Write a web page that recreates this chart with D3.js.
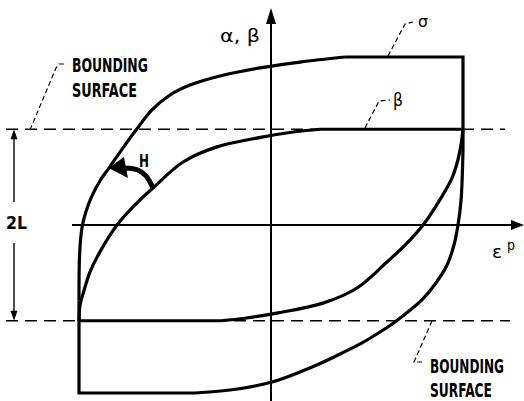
<!DOCTYPE html>
<html>
<head>
<meta charset="utf-8">
<script src="https://cdn.jsdelivr.net/npm/d3@7"></script>
<style>
  body { margin: 0; background: #fff; }
  text { font-family: "DejaVu Sans", sans-serif; fill: #000; }
</style>
</head>
<body>
<div id="chart"></div>
<script>
// loop data, x = plastic strain, y = stress / back stress (normalised)
const L = 0.57

// sigma loop, rising branch (left / top)
const sigmaUp = [
  [-1, -0.45], [-0.998, -0.208], [-0.992, -0.089], [-0.982, 0], [-0.961, 0.089],
  [-0.93, 0.179], [-0.888, 0.268], [-0.844, 0.339], [-0.779, 0.446], [-0.703, 0.565],
  [-0.62, 0.685], [-0.526, 0.774], [-0.422, 0.833], [-0.266, 0.887], [-0.057, 0.935],
  [0.151, 0.97], [0.385, 1]
]
// sigma loop, falling branch (right / bottom)
const sigmaDown = [
  [1, 0.446], [0.99, 0.149], [0.974, 0], [0.953, -0.119], [0.917, -0.238],
  [0.859, -0.345], [0.786, -0.446], [0.719, -0.512], [0.646, -0.577], [0.568, -0.637],
  [0.474, -0.702], [0.349, -0.774], [0.214, -0.845], [0.005, -0.935], [-0.214, -0.982],
  [-0.396, -1]
]
// straight parts of the sigma loop (yield plateaus)
const sigmaCorners = [
  [[0.385, 1], [1, 1], [1, 0.446]],
  [[-0.396, -1], [-1, -1], [-1, -0.45]]
]

// beta loop, rising branch
const betaUp = [
  [-1, -L], [-0.995, -0.48], [-0.974, -0.39], [-0.943, -0.28], [-0.891, -0.16],
  [-0.802, 0], [-0.708, 0.12], [-0.615, 0.22], [-0.458, 0.375], [-0.281, 0.465],
  [-0.047, 0.523], [0.125, 0.555], [0.255, L]
]
// beta loop, falling branch
const betaDown = [
  [1, L], [0.99, 0.48], [0.974, 0.39], [0.943, 0.28], [0.885, 0.16],
  [0.792, 0], [0.698, -0.12], [0.604, -0.22], [0.448, -0.375], [0.271, -0.465],
  [0.037, -0.523], [-0.135, -0.555], [-0.26, -L]
]
const betaFlats = [
  [[0.255, L], [1, L]],
  [[-0.26, -L], [-1, -L]]
]

// hardening arrow H, from beta curve to sigma curve
const hShaft = [[-0.615, 0.22], [-0.651, 0.292], [-0.693, 0.327], [-0.76, 0.339]]
const hHead = [[-0.846, 0.339], [-0.766, 0.405], [-0.745, 0.28]]

async function draw() {
  //set dimensions
  let dimensions = {
    width: 524,
    height: 401
  }

  const svg = d3.select('#chart')
    .append('svg')
    .attr('width', dimensions.width)
    .attr('height', dimensions.height)

  //scales
  const x = d3.scaleLinear().domain([-1, 1]).range([79, 463])
  const y = d3.scaleLinear().domain([-1, 1]).range([393, 57])

  const curve = d3.line()
    .x(d => x(d[0]))
    .y(d => y(d[1]))
    .curve(d3.curveCatmullRom.alpha(0.5))
  const straight = d3.line()
    .x(d => x(d[0]))
    .y(d => y(d[1]))

  //bounding surfaces
  svg.selectAll('line.bound')
    .data([L, -L])
    .join('line')
    .attr('class', 'bound')
    .attr('x1', 6)
    .attr('x2', (d, i) => i === 0 ? 505 : 510)
    .attr('y1', d => y(d))
    .attr('y2', d => y(d))
    .attr('stroke', '#000')
    .attr('stroke-width', 1.5)
    .attr('stroke-dasharray', '12,7')

  //axes
  const axes = svg.append('g')
  axes.append('line')
    .attr('x1', 72).attr('x2', 513)
    .attr('y1', y(0)).attr('y2', y(0))
    .attr('stroke', '#000').attr('stroke-width', 2)
  axes.append('path')
    .attr('d', `M524,${y(0)} L511,${y(0) - 5} L511,${y(0) + 5} Z`)
  axes.append('line')
    .attr('x1', x(0)).attr('x2', x(0))
    .attr('y1', 401).attr('y2', 20)
    .attr('stroke', '#000').attr('stroke-width', 2)
  axes.append('path')
    .attr('d', `M${x(0)},8 L${x(0) - 5},24 L${x(0) + 5},24 Z`)

  //2L dimension arrow
  const dim = svg.append('g')
  dim.append('line')
    .attr('x1', 14).attr('x2', 14)
    .attr('y1', y(L) + 8).attr('y2', 202)
    .attr('stroke', '#000').attr('stroke-width', 1.4)
  dim.append('line')
    .attr('x1', 14).attr('x2', 14)
    .attr('y1', 243).attr('y2', y(-L) - 8)
    .attr('stroke', '#000').attr('stroke-width', 1.4)
  dim.append('path')
    .attr('d', `M14,${y(L)} L10.5,${y(L) + 10} L17.5,${y(L) + 10} Z`)
  dim.append('path')
    .attr('d', `M14,${y(-L)} L10.5,${y(-L) - 10} L17.5,${y(-L) - 10} Z`)

  //loops
  const loops = svg.append('g')
    .attr('fill', 'none')
    .attr('stroke', '#000')
    .attr('stroke-width', 3.2)
    .attr('stroke-linejoin', 'miter')

  loops.selectAll('path.curve')
    .data([sigmaUp, sigmaDown, betaUp, betaDown])
    .join('path')
    .attr('class', 'curve')
    .attr('d', curve)

  loops.selectAll('path.flat')
    .data([...sigmaCorners, ...betaFlats])
    .join('path')
    .attr('class', 'flat')
    .attr('d', straight)

  //H arrow
  svg.append('path')
    .attr('d', curve(hShaft))
    .attr('fill', 'none')
    .attr('stroke', '#000')
    .attr('stroke-width', 5)
  svg.append('path')
    .attr('d', straight(hHead) + 'Z')

  //leader lines
  const leaders = [
    'M30,130 L56,68 L59,64 L67,64',
    'M432,321 L414,362 L422,362',
    'M388,56 L405,24 L413,22',
    'M365,128 L379,101 L390,100'
  ]
  svg.selectAll('path.leader')
    .data(leaders)
    .join('path')
    .attr('class', 'leader')
    .attr('d', d => d)
    .attr('fill', 'none')
    .attr('stroke', '#000')
    .attr('stroke-width', 1.2)
    .attr('stroke-dasharray', '5,3')

  //labels (squeezed horizontally to the narrow lettering of the drawing)
  const labels = [
    { t: 'BOUNDING', x: 72, y: 72, s: 19, w: 76, b: true },
    { t: 'SURFACE', x: 72, y: 97, s: 19, w: 65, b: true },
    { t: 'BOUNDING', x: 430, y: 373, s: 19, w: 74, b: true },
    { t: 'SURFACE', x: 430, y: 397, s: 19, w: 62, b: true },
    { t: 'α, β', x: 220, y: 42, s: 18, w: 40, b: false },
    { t: 'σ', x: 418, y: 27, s: 16, w: 10, b: false },
    { t: 'β', x: 393, y: 106, s: 17, w: 10, b: false },
    { t: '2L', x: 6, y: 229, s: 17, w: 21, b: true },
    { t: 'H', x: 139, y: 167, s: 17, w: 10, b: true },
    { t: 'ε', x: 492, y: 258, s: 18, w: 10, b: false },
    { t: 'p', x: 507, y: 250, s: 14, w: 8, b: false }
  ]
  const labelGroups = svg.selectAll('g.label')
    .data(labels)
    .join('g')
    .attr('class', 'label')

  labelGroups.append('text')
    .attr('font-size', d => d.s)
    .attr('font-weight', d => d.b ? 'bold' : 'normal')
    .text(d => d.t)

  labelGroups.attr('transform', function (d) {
    const natural = this.querySelector('text').getComputedTextLength()
    return `translate(${d.x},${d.y}) scale(${d.w / natural},1)`
  })
}

draw()
</script>
</body>
</html>
